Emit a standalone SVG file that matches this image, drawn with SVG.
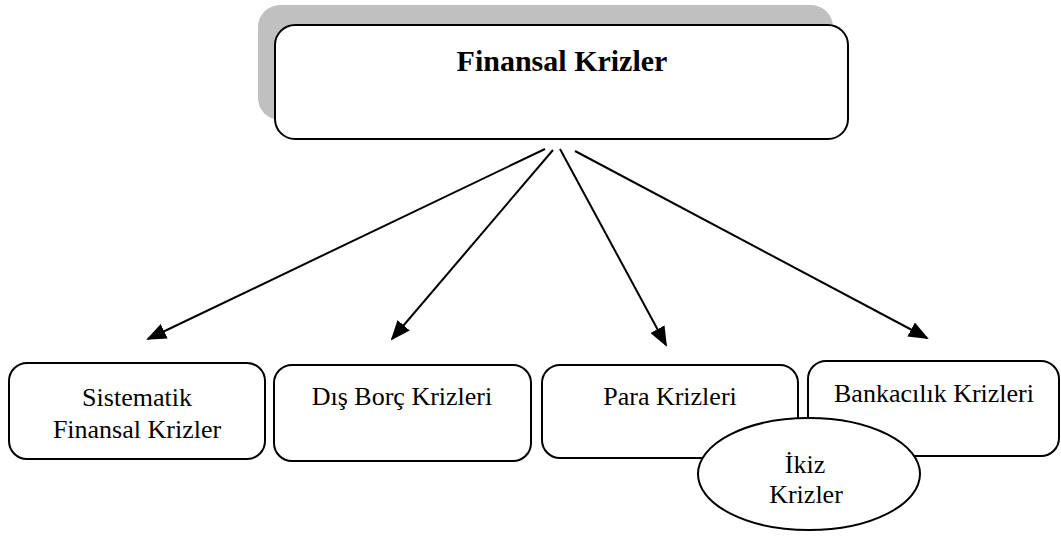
<svg xmlns="http://www.w3.org/2000/svg" width="1061" height="538" viewBox="0 0 1061 538">
<style>
.box{fill:#fff;stroke:#000;stroke-width:2}
.t{font-family:"Liberation Serif","Times New Roman",serif;font-size:26px;fill:#000;text-anchor:middle}
.title{font-family:"Liberation Serif","Times New Roman",serif;font-size:30px;font-weight:bold;fill:#000;text-anchor:middle}
.c{stroke:#000;stroke-width:2;fill:none;marker-end:url(#ah)}
</style>
<defs>
<marker id="ah" markerWidth="10" markerHeight="8" refX="9" refY="4" orient="auto" markerUnits="strokeWidth">
<path d="M0,0 L10,4 L0,8 Z" fill="#000"/>
</marker>
</defs>
<g id="root">
<rect x="258" y="5" width="575" height="115" rx="22" fill="#c0c0c0"/>
<rect class="box" x="275" y="25" width="573" height="114" rx="20"/>
<text class="title" x="562" y="71">Finansal Krizler</text>
</g>
<g id="connectors">
<line class="c" x1="545" y1="149" x2="148" y2="339"/>
<line class="c" x1="553" y1="150" x2="392" y2="339"/>
<line class="c" x1="560" y1="149" x2="666" y2="345"/>
<line class="c" x1="575" y1="151" x2="927" y2="338"/>
</g>
<g id="sistematik">
<rect class="box" x="9" y="363" width="256" height="96" rx="18"/>
<text class="t" x="137" y="406">Sistematik</text>
<text class="t" x="137" y="438">Finansal Krizler</text>
</g>
<g id="disborc">
<rect class="box" x="274" y="365" width="257" height="96" rx="18"/>
<text class="t" x="402" y="405">Dış Borç Krizleri</text>
</g>
<g id="para">
<rect class="box" x="542" y="365" width="256" height="93" rx="18"/>
<text class="t" x="670" y="405">Para Krizleri</text>
</g>
<g id="bankacilik">
<rect class="box" x="808" y="361" width="251" height="95" rx="18"/>
<text class="t" x="934" y="402">Bankacılık Krizleri</text>
</g>
<g id="ikiz">
<ellipse class="box" cx="809" cy="474" rx="111" ry="56"/>
<text class="t" x="805" y="473">İkiz</text>
<text class="t" x="806" y="503">Krizler</text>
</g>
</svg>
